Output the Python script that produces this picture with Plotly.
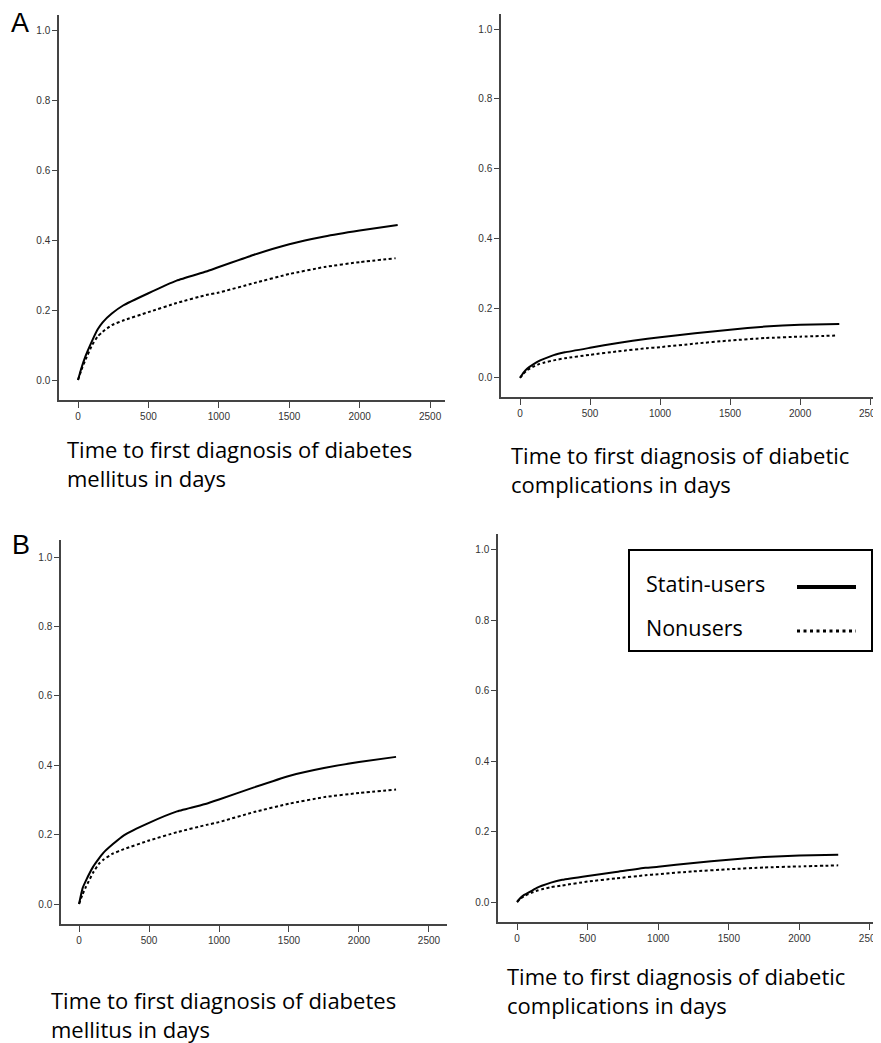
import plotly.graph_objects as go

W, H = 881, 1043
OFF = 8              # default page margin around the plot div
FW, FH = W, H

# ---------------- data ----------------
# Panel A, left: diabetes mellitus
a1_days = [0, 25, 50, 100, 140, 175, 240, 320, 500, 700, 910, 1000, 1250, 1500, 1750, 2000, 2270]
a1_statin = [0, 0.035, 0.065, 0.112, 0.145, 0.165, 0.19, 0.213, 0.248, 0.284, 0.310, 0.323, 0.358, 0.388, 0.410, 0.427, 0.443]
a1_days_n = [0, 25, 50, 100, 140, 175, 240, 320, 500, 700, 910, 1000, 1250, 1500, 1750, 2000, 2255]
a1_nonuser = [0, 0.03, 0.055, 0.10, 0.125, 0.138, 0.157, 0.170, 0.194, 0.220, 0.243, 0.250, 0.277, 0.303, 0.323, 0.337, 0.348]

# Panel A, right: diabetic complications
a2_days = [0, 25, 50, 100, 140, 175, 240, 320, 500, 700, 910, 1000, 1250, 1500, 1750, 2000, 2280]
a2_statin = [0, 0.015, 0.026, 0.040, 0.049, 0.055, 0.065, 0.073, 0.086, 0.100, 0.112, 0.116, 0.128, 0.138, 0.147, 0.152, 0.154]
a2_days_n = [0, 25, 50, 100, 140, 175, 240, 320, 500, 700, 910, 1000, 1250, 1500, 1750, 2000, 2250]
a2_nonuser = [0, 0.012, 0.022, 0.033, 0.040, 0.044, 0.050, 0.056, 0.066, 0.076, 0.085, 0.088, 0.098, 0.107, 0.114, 0.118, 0.121]

# Panel B, left: diabetes mellitus
b1_days = [0, 25, 50, 100, 140, 175, 240, 320, 500, 700, 910, 1000, 1250, 1500, 1750, 2000, 2265]
b1_statin = [0, 0.045, 0.068, 0.107, 0.130, 0.148, 0.172, 0.198, 0.234, 0.267, 0.289, 0.301, 0.336, 0.369, 0.392, 0.409, 0.424]
b1_days_n = [0, 25, 50, 100, 140, 175, 240, 320, 500, 700, 910, 1000, 1250, 1500, 1750, 2000, 2265]
b1_nonuser = [0, 0.028, 0.050, 0.090, 0.115, 0.128, 0.145, 0.158, 0.183, 0.207, 0.228, 0.236, 0.265, 0.289, 0.308, 0.320, 0.330]

# Panel B, right: diabetic complications
b2_days = [0, 25, 50, 100, 140, 175, 240, 320, 500, 700, 910, 1000, 1250, 1500, 1750, 2000, 2275]
b2_statin = [0, 0.012, 0.020, 0.031, 0.040, 0.046, 0.055, 0.063, 0.074, 0.085, 0.097, 0.100, 0.111, 0.120, 0.128, 0.132, 0.134]
b2_days_n = [0, 25, 50, 100, 140, 175, 240, 320, 500, 700, 910, 1000, 1250, 1500, 1750, 2000, 2275]
b2_nonuser = [0, 0.010, 0.017, 0.026, 0.032, 0.036, 0.042, 0.047, 0.058, 0.067, 0.076, 0.079, 0.087, 0.093, 0.098, 0.101, 0.104]

x_ticks = [0, 500, 1000, 1500, 2000, 2500]
y_ticks = [0.0, 0.2, 0.4, 0.6, 0.8, 1.0]
y_tick_labels = ["0.0", "0.2", "0.4", "0.6", "0.8", "1.0"]

series_names = ["Statin-users", "Nonusers"]
panel_letters = ["A", "B"]
title_dm = "Time to first diagnosis of diabetes<br>mellitus in days"
title_comp = "Time to first diagnosis of diabetic<br>complications in days"

# ---------------- layout helpers (page pixels -> paper coords) ----------------
def px_x(p):
    return (p - OFF) / FW

def px_y(p):
    return 1 - (p - OFF) / FH

panels = [
    dict(xd=(59, 445), yd=(15, 400), xr=(-135, 2606), yr=(-0.057, 1.043)),
    dict(xd=(501, 881), yd=(14, 397), xr=(-136, 2578), yr=(-0.055, 1.043)),
    dict(xd=(61, 447), yd=(540, 924), xr=(-129, 2629), yr=(-0.0576, 1.049)),
    dict(xd=(498, 881), yd=(534, 922), xr=(-135, 2578), yr=(-0.0568, 1.045)),
]
data = [
    (a1_days, a1_statin, a1_days_n, a1_nonuser),
    (a2_days, a2_statin, a2_days_n, a2_nonuser),
    (b1_days, b1_statin, b1_days_n, b1_nonuser),
    (b2_days, b2_statin, b2_days_n, b2_nonuser),
]

fig = go.Figure()
axis_color = "#444444"
tick_font = dict(family="Liberation Sans, Arial", size=10, color="#333333")

for i, (p, d) in enumerate(zip(panels, data), start=1):
    sfx = "" if i == 1 else str(i)
    xs, ys, xn, yn = d
    fig.add_trace(go.Scatter(x=xs, y=ys, mode="lines", name=series_names[0],
                             line=dict(color="black", width=2, shape="spline", smoothing=0.4),
                             xaxis="x" + sfx, yaxis="y" + sfx, showlegend=False))
    fig.add_trace(go.Scatter(x=xn, y=yn, mode="lines", name=series_names[1],
                             line=dict(color="black", width=2, dash="3px,2.5px", shape="spline", smoothing=0.4),
                             xaxis="x" + sfx, yaxis="y" + sfx, showlegend=False))
    fig.layout["xaxis" + sfx] = dict(
        domain=[max(0, px_x(p["xd"][0])), min(1, px_x(p["xd"][1]))], range=list(p["xr"]),
        anchor="y" + sfx, showline=True, linecolor=axis_color, linewidth=1.5,
        ticks="outside", ticklen=6, tickwidth=1.2, tickcolor=axis_color,
        tickvals=x_ticks, ticktext=[str(v) for v in x_ticks], tickfont=tick_font,
        ticklabeloverflow="allow",
        showgrid=False, zeroline=False, fixedrange=True)
    fig.layout["yaxis" + sfx] = dict(
        domain=[px_y(p["yd"][1]), px_y(p["yd"][0])], range=list(p["yr"]),
        anchor="x" + sfx, showline=True, linecolor=axis_color, linewidth=1.5,
        ticks="outside", ticklen=5, tickwidth=1.2, tickcolor=axis_color,
        tickvals=y_ticks, ticktext=y_tick_labels, tickfont=tick_font,
        showgrid=False, zeroline=False, fixedrange=True)

annotations = []
title_font = dict(family="Open Sans", size=22, color="black")

def add_text(txt, x, y, font):
    annotations.append(dict(text=txt, x=px_x(x), y=px_y(y), xref="paper", yref="paper",
                            xanchor="left", yanchor="middle", align="left", showarrow=False,
                            font=font, borderpad=0))

letter_font = dict(family="Liberation Sans, Arial", size=27, color="black")
add_text(panel_letters[0], 10, 23, letter_font)
add_text(panel_letters[1], 11, 545, letter_font)

add_text(title_dm, 66, 464, title_font)
add_text(title_comp, 510, 469, title_font)
add_text(title_dm, 50, 1014, title_font)
add_text(title_comp, 506, 990, title_font)

legend_font = dict(family="Open Sans", size=21.5, color="black")
add_text(series_names[0], 645, 583, legend_font)
add_text(series_names[1], 645, 627, legend_font)

shapes = [
    dict(type="rect", xref="paper", yref="paper", x0=px_x(629), x1=px_x(872), y0=px_y(651), y1=px_y(550),
         line=dict(color="black", width=2), fillcolor="white", layer="above"),
    dict(type="line", xref="paper", yref="paper", x0=px_x(797), x1=px_x(856), y0=px_y(587), y1=px_y(587),
         line=dict(color="black", width=4), layer="above"),
    dict(type="line", xref="paper", yref="paper", x0=px_x(797), x1=px_x(856), y0=px_y(631), y1=px_y(631),
         line=dict(color="black", width=3, dash="3px,3.5px"), layer="above"),
]

fig.update_layout(width=FW, height=FH, margin=dict(l=0, r=0, t=0, b=0),
                  paper_bgcolor="white", plot_bgcolor="white",
                  annotations=annotations, shapes=shapes, showlegend=False)

fig.write_html("out.html")
